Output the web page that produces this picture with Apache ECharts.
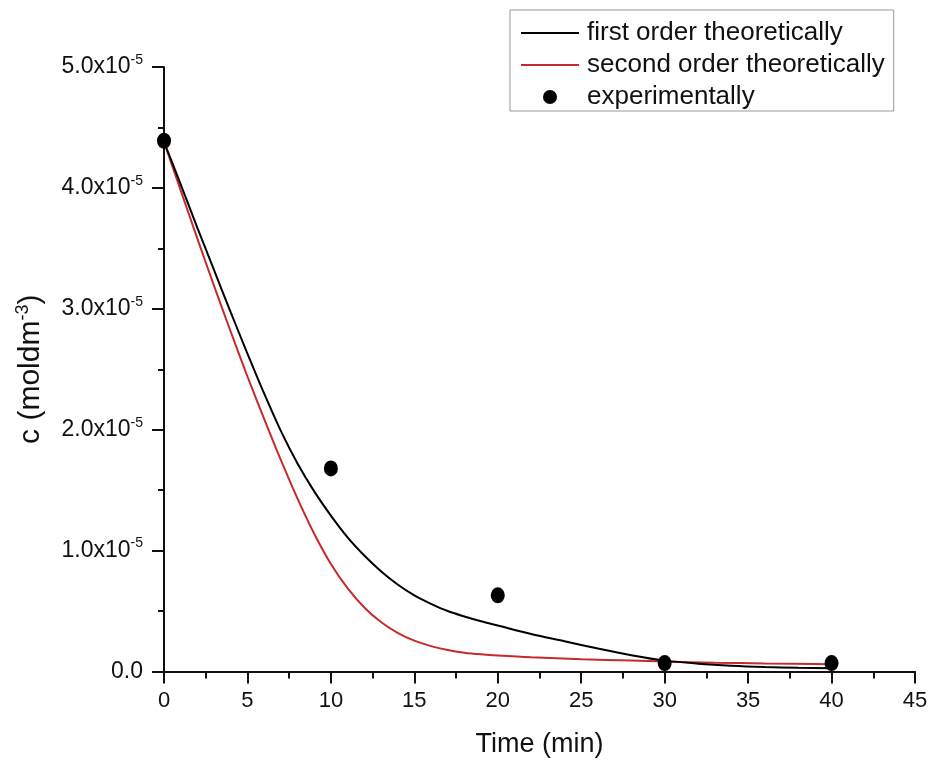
<!DOCTYPE html>
<html>
<head>
<meta charset="utf-8">
<script src="https://cdn.jsdelivr.net/npm/echarts@6/dist/echarts.min.js"></script>
<style>
html,body{margin:0;padding:0;background:#fff;}
#chart{width:934px;height:762px;}
</style>
</head>
<body>
<div id="chart"></div>
<script>
// ---- data (concentration in mol dm^-3, time in min) ----
const seriesNames = ['first order theoretically', 'second order theoretically', 'experimentally'];

const tFirst = [0, 1, 2, 3, 4, 5, 6, 7, 8, 9, 10, 11, 12, 13, 14, 15, 16, 17, 18, 19, 20, 22, 24, 26, 28, 30, 32, 34, 36, 38, 40];
const cFirst = [4.38e-5, 4.03e-5, 3.67e-5, 3.32e-5, 2.97e-5, 2.63e-5, 2.30e-5, 1.99e-5, 1.72e-5, 1.49e-5, 1.29e-5, 1.11e-5, 0.96e-5, 0.83e-5, 0.72e-5, 0.63e-5, 0.56e-5, 0.50e-5, 0.455e-5, 0.415e-5, 0.38e-5, 0.31e-5, 0.25e-5, 0.19e-5, 0.135e-5, 0.09e-5, 0.065e-5, 0.048e-5, 0.037e-5, 0.03e-5, 0.027e-5];

const tSecond = [0, 1, 2, 3, 4, 5, 6, 7, 8, 9, 10, 11, 12, 13, 14, 15, 16, 17, 18, 19, 20, 22, 25, 28, 30, 33, 36, 40];
const cSecond = [4.38e-5, 3.98e-5, 3.58e-5, 3.19e-5, 2.81e-5, 2.44e-5, 2.09e-5, 1.75e-5, 1.43e-5, 1.14e-5, 0.89e-5, 0.69e-5, 0.53e-5, 0.41e-5, 0.32e-5, 0.255e-5, 0.21e-5, 0.178e-5, 0.156e-5, 0.142e-5, 0.132e-5, 0.117e-5, 0.102e-5, 0.09e-5, 0.082e-5, 0.073e-5, 0.067e-5, 0.061e-5];

const tExp = [0, 10, 20, 30, 40];
const cExp = [4.39e-5, 1.68e-5, 0.63e-5, 0.07e-5, 0.07e-5];

const xTicks = { min: 0, max: 45, interval: 5 };
const yTicks = { min: 0, max: 5e-5, interval: 1e-5 };

const zip = (xs, ys) => xs.map((x, i) => [x, ys[i]]);

const FONT = '"Liberation Sans", Arial, sans-serif';
const LINE_ICON = 'path://M0,0H58V2H0Z';

const chart = echarts.init(document.getElementById('chart'), null, { renderer: 'canvas' });

const option = {
  backgroundColor: '#ffffff',
  animation: false,
  textStyle: { fontFamily: FONT },
  grid: { left: 164, right: 19, top: 67, bottom: 90.5, containLabel: false, outerBoundsMode: 'none' },
  legend: {
    orient: 'vertical',
    left: 510,
    top: 10,
    padding: [10, 9, 1, 11],
    borderColor: '#999999',
    borderWidth: 1,
    itemWidth: 58,
    itemHeight: 14,
    itemGap: 6,
    symbolKeepAspect: true,
    textStyle: { fontFamily: FONT, fontSize: 26, color: '#111', padding: [0, 0, 0, 3] },
    data: [
      { name: seriesNames[0], icon: LINE_ICON },
      { name: seriesNames[1], icon: LINE_ICON },
      { name: seriesNames[2], icon: 'circle' }
    ]
  },
  xAxis: {
    type: 'value',
    min: xTicks.min, max: xTicks.max, interval: xTicks.interval,
    name: 'Time (min)',
    nameLocation: 'middle',
    nameGap: 60,
    nameTextStyle: { fontFamily: FONT, fontSize: 27, color: '#111' },
    axisLine: { show: true, onZero: false, lineStyle: { color: '#111', width: 2 } },
    axisTick: { show: true, inside: false, length: 12, lineStyle: { color: '#111', width: 2 } },
    minorTick: { show: true, splitNumber: 2, length: 7, lineStyle: { color: '#111', width: 2 } },
    splitLine: { show: false },
    axisLabel: { margin: 18, fontFamily: FONT, fontSize: 22, color: '#111' }
  },
  yAxis: {
    type: 'value',
    min: yTicks.min, max: yTicks.max, interval: yTicks.interval,
    name: '{n|c (moldm}{s|-3}{n|)}',
    nameLocation: 'middle',
    nameGap: 116,
    nameTextStyle: {
      fontFamily: FONT, fontSize: 30, color: '#111',
      rich: {
        n: { fontFamily: FONT, fontSize: 30, color: '#111' },
        s: { fontFamily: FONT, fontSize: 18, color: '#111', padding: [0, 0, 16, 0] }
      }
    },
    axisLine: { show: true, onZero: false, lineStyle: { color: '#111', width: 2 } },
    axisTick: { show: true, inside: false, length: 12, lineStyle: { color: '#111', width: 2 } },
    minorTick: { show: true, splitNumber: 2, length: 6, lineStyle: { color: '#111', width: 2 } },
    splitLine: { show: false },
    axisLabel: {
      margin: 21,
      fontFamily: FONT, fontSize: 23, color: '#111',
      formatter: function (v) {
        if (Math.abs(v) < 1e-12) return '{m|0.0}';
        const m = (v / 1e-5).toFixed(1);
        return '{m|' + m + 'x10}{s|-5}';
      },
      rich: {
        m: { fontFamily: FONT, fontSize: 23, color: '#111' },
        s: { fontFamily: FONT, fontSize: 14, color: '#111', padding: [0, 0, 14, 0] }
      }
    }
  },
  series: [
    {
      name: seriesNames[0],
      type: 'line',
      data: zip(tFirst, cFirst),
      showSymbol: false,
      symbol: 'none',
      smooth: 0.3,
      lineStyle: { color: '#000000', width: 2 },
      itemStyle: { color: '#000000' },
      z: 3
    },
    {
      name: seriesNames[1],
      type: 'line',
      data: zip(tSecond, cSecond),
      showSymbol: false,
      symbol: 'none',
      smooth: 0.3,
      lineStyle: { color: '#c62a2a', width: 2 },
      itemStyle: { color: '#c62a2a' },
      z: 2
    },
    {
      name: seriesNames[2],
      type: 'scatter',
      data: zip(tExp, cExp),
      symbol: 'circle',
      symbolSize: [14, 16],
      itemStyle: { color: '#000000', opacity: 1 },
      z: 4
    }
  ]
};

chart.setOption(option);
</script>
</body>
</html>
